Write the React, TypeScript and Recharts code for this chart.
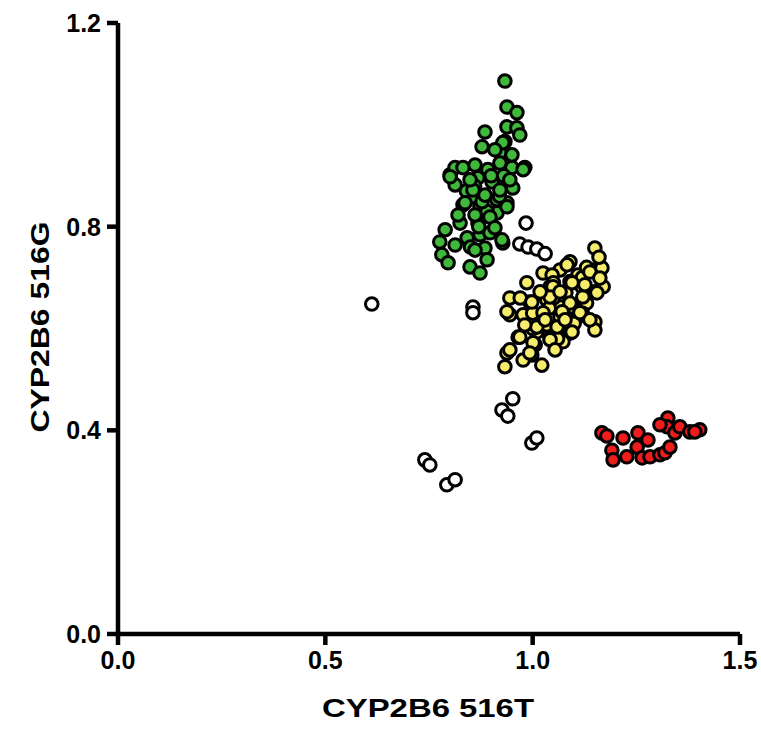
import { ScatterChart, Scatter, XAxis, YAxis, Label } from "recharts";

type Pt = { x: number; y: number };

const xTicks = [0, 0.5, 1.0, 1.5];
const yTicks = [0, 0.4, 0.8, 1.2];

const whitePts: Pt[] = [
  { x: 0.612, y: 0.648 }, { x: 0.856, y: 0.642 }, { x: 0.856, y: 0.631 },
  { x: 0.952, y: 0.462 }, { x: 0.926, y: 0.44 }, { x: 0.94, y: 0.428 },
  { x: 0.998, y: 0.375 }, { x: 1.01, y: 0.385 }, { x: 0.74, y: 0.342 },
  { x: 0.752, y: 0.332 }, { x: 0.793, y: 0.293 }, { x: 0.813, y: 0.303 },
  { x: 0.984, y: 0.807 }, { x: 0.969, y: 0.766 }, { x: 0.989, y: 0.76 },
  { x: 1.01, y: 0.756 }, { x: 1.03, y: 0.747 },
];

const greenPts: Pt[] = [
  { x: 0.933, y: 1.086 }, { x: 0.938, y: 1.035 }, { x: 0.962, y: 1.024 },
  { x: 0.938, y: 0.996 }, { x: 0.962, y: 0.994 }, { x: 0.969, y: 0.98 },
  { x: 0.885, y: 0.986 }, { x: 0.878, y: 0.957 }, { x: 0.933, y: 0.967 },
  { x: 0.921, y: 0.945 }, { x: 0.801, y: 0.902 }, { x: 0.813, y: 0.916 },
  { x: 0.832, y: 0.916 }, { x: 0.861, y: 0.921 }, { x: 0.892, y: 0.912 },
  { x: 0.921, y: 0.925 }, { x: 0.95, y: 0.916 }, { x: 0.981, y: 0.916 },
  { x: 0.813, y: 0.882 }, { x: 0.868, y: 0.896 }, { x: 0.902, y: 0.888 },
  { x: 0.952, y: 0.876 }, { x: 0.854, y: 0.859 }, { x: 0.832, y: 0.843 },
  { x: 0.873, y: 0.839 }, { x: 0.914, y: 0.853 }, { x: 0.938, y: 0.847 },
  { x: 0.825, y: 0.807 }, { x: 0.868, y: 0.807 }, { x: 0.914, y: 0.827 },
  { x: 0.789, y: 0.794 }, { x: 0.776, y: 0.77 }, { x: 0.842, y: 0.778 },
  { x: 0.873, y: 0.784 }, { x: 0.897, y: 0.788 }, { x: 0.928, y: 0.768 },
  { x: 0.781, y: 0.745 }, { x: 0.796, y: 0.729 }, { x: 0.885, y: 0.758 },
  { x: 0.849, y: 0.721 }, { x: 0.873, y: 0.709 }, { x: 0.89, y: 0.735 },
  { x: 0.86, y: 0.88 }, { x: 0.9, y: 0.9 }, { x: 0.84, y: 0.87 },
  { x: 0.89, y: 0.83 }, { x: 0.93, y: 0.9 }, { x: 0.87, y: 0.8 },
  { x: 0.92, y: 0.86 }, { x: 0.85, y: 0.76 },
  { x: 0.928, y: 0.965 }, { x: 0.945, y: 0.892 }, { x: 0.856, y: 0.872 },
  { x: 0.938, y: 0.839 }, { x: 0.897, y: 0.819 }, { x: 0.926, y: 0.774 },
  { x: 0.801, y: 0.898 }, { x: 0.837, y: 0.847 }, { x: 0.878, y: 0.849 },
  { x: 0.977, y: 0.912 }, { x: 0.909, y: 0.951 }, { x: 0.95, y: 0.941 },
  { x: 0.849, y: 0.892 }, { x: 0.885, y: 0.862 }, { x: 0.921, y: 0.872 },
  { x: 0.82, y: 0.823 }, { x: 0.861, y: 0.823 }, { x: 0.909, y: 0.798 },
  { x: 0.813, y: 0.764 }, { x: 0.861, y: 0.754 },
];

const yellowPts: Pt[] = [
  { x: 1.15, y: 0.758 }, { x: 1.143, y: 0.715 }, { x: 1.167, y: 0.719 },
  { x: 1.09, y: 0.731 }, { x: 1.066, y: 0.715 }, { x: 1.025, y: 0.709 },
  { x: 1.047, y: 0.705 }, { x: 1.109, y: 0.705 }, { x: 0.986, y: 0.69 },
  { x: 1.042, y: 0.682 }, { x: 1.09, y: 0.692 }, { x: 1.119, y: 0.682 },
  { x: 1.15, y: 0.672 }, { x: 1.17, y: 0.682 }, { x: 0.945, y: 0.66 },
  { x: 0.993, y: 0.652 }, { x: 1.034, y: 0.656 }, { x: 1.066, y: 0.642 },
  { x: 1.097, y: 0.642 }, { x: 1.121, y: 0.656 }, { x: 0.945, y: 0.627 },
  { x: 0.977, y: 0.627 }, { x: 1.025, y: 0.627 }, { x: 1.066, y: 0.623 },
  { x: 1.109, y: 0.623 }, { x: 1.034, y: 0.607 }, { x: 1.066, y: 0.603 },
  { x: 1.09, y: 0.591 }, { x: 1.15, y: 0.613 }, { x: 1.15, y: 0.597 },
  { x: 0.965, y: 0.583 }, { x: 1.01, y: 0.593 }, { x: 1.006, y: 0.568 },
  { x: 1.042, y: 0.582 }, { x: 1.073, y: 0.574 }, { x: 0.938, y: 0.552 },
  { x: 0.998, y: 0.548 }, { x: 1.022, y: 0.528 }, { x: 0.933, y: 0.525 },
  { x: 0.977, y: 0.538 }, { x: 1.05, y: 0.66 }, { x: 1.08, y: 0.67 },
  { x: 1.12, y: 0.7 }, { x: 1.13, y: 0.65 }, { x: 1.1, y: 0.61 },
  { x: 1.04, y: 0.64 }, { x: 1.0, y: 0.6 }, { x: 1.13, y: 0.72 },
  { x: 1.16, y: 0.74 }, { x: 1.05, y: 0.69 }, { x: 0.97, y: 0.66 },
  { x: 1.06, y: 0.58 }, { x: 1.12, y: 0.63 }, { x: 1.0, y: 0.63 },
  { x: 1.083, y: 0.725 }, { x: 1.138, y: 0.711 }, { x: 1.049, y: 0.682 },
  { x: 1.095, y: 0.69 }, { x: 1.155, y: 0.67 }, { x: 0.998, y: 0.652 },
  { x: 1.042, y: 0.662 }, { x: 1.09, y: 0.65 }, { x: 1.121, y: 0.662 },
  { x: 0.938, y: 0.633 }, { x: 1.025, y: 0.631 }, { x: 1.071, y: 0.633 },
  { x: 1.114, y: 0.631 }, { x: 1.01, y: 0.603 }, { x: 1.059, y: 0.603 },
  { x: 1.095, y: 0.593 }, { x: 0.969, y: 0.583 }, { x: 1.001, y: 0.572 },
  { x: 1.042, y: 0.578 }, { x: 0.945, y: 0.558 }, { x: 0.993, y: 0.552 },
  { x: 1.066, y: 0.672 }, { x: 1.03, y: 0.617 }, { x: 1.078, y: 0.617 },
  { x: 1.126, y: 0.686 }, { x: 1.162, y: 0.699 }, { x: 1.018, y: 0.672 },
  { x: 0.981, y: 0.607 }, { x: 1.138, y: 0.617 }, { x: 1.054, y: 0.558 },
];

const redPts: Pt[] = [
  { x: 1.167, y: 0.395 }, { x: 1.179, y: 0.389 }, { x: 1.191, y: 0.361 },
  { x: 1.194, y: 0.342 }, { x: 1.218, y: 0.385 }, { x: 1.227, y: 0.348 },
  { x: 1.254, y: 0.395 }, { x: 1.252, y: 0.367 }, { x: 1.264, y: 0.346 },
  { x: 1.278, y: 0.381 }, { x: 1.283, y: 0.348 }, { x: 1.307, y: 0.352 },
  { x: 1.319, y: 0.356 }, { x: 1.331, y: 0.367 }, { x: 1.326, y: 0.424 },
  { x: 1.324, y: 0.407 }, { x: 1.343, y: 0.395 }, { x: 1.355, y: 0.407 },
  { x: 1.379, y: 0.397 }, { x: 1.403, y: 0.401 }, { x: 1.391, y: 0.397 },
  { x: 1.307, y: 0.411 },
];

const font = "'Liberation Sans', Arial, sans-serif";

const dot = (fill: string) => (p: any) => (
  <circle cx={p.cx} cy={p.cy} r={6.3} fill={fill} stroke="#000" strokeWidth={3} />
);

const fmt = (v: number) => v.toFixed(1);

export default function App() {
  const tick = { fontSize: 25, fontWeight: "bold", fill: "#000", fontFamily: font };
  const line = { stroke: "#000", strokeWidth: 4.5 };
  return (
    <div style={{ position: "absolute", left: 0, top: 0, background: "#fff" }}>
      <ScatterChart width={761} height={731} margin={{ top: 23, right: 21, bottom: 0, left: 0 }}>
        <XAxis
          type="number"
          dataKey="x"
          domain={[0, 1.5]}
          ticks={xTicks}
          tickFormatter={fmt}
          height={97}
          tickSize={11}
          tickMargin={6}
          tick={tick}
          stroke="#000"
          strokeWidth={4.5}
          axisLine={line}
          tickLine={line}
        >
          <Label
            content={({ viewBox }: any) => (
              <text
                x={viewBox.x + viewBox.width / 2 - 1}
                y={717}
                textAnchor="middle"
                fontSize={26}
                fontWeight="bold"
                fontFamily={font}
                fill="#000"
                textLength={212}
                lengthAdjust="spacingAndGlyphs"
              >
                CYP2B6 516T
              </text>
            )}
          />
        </XAxis>
        <YAxis
          type="number"
          dataKey="y"
          domain={[0, 1.2]}
          ticks={yTicks}
          tickFormatter={fmt}
          width={118}
          tickSize={11}
          tickMargin={6}
          tick={tick}
          stroke="#000"
          strokeWidth={4.5}
          axisLine={line}
          tickLine={line}
        >
          <Label
            content={() => {
              const cx = 40;
              const cy = 327;
              return (
                <text
                  x={cx}
                  y={cy}
                  transform={`rotate(-90 ${cx} ${cy})`}
                  textAnchor="middle"
                  dominantBaseline="central"
                  fontSize={26}
                  fontWeight="bold"
                  fontFamily={font}
                  fill="#000"
                  textLength={211}
                  lengthAdjust="spacingAndGlyphs"
                >
                  CYP2B6 516G
                </text>
              );
            }}
          />
        </YAxis>
        <Scatter data={whitePts} shape={dot("#fff")} isAnimationActive={false} />
        <Scatter data={greenPts} shape={dot("#3fb83c")} isAnimationActive={false} />
        <Scatter data={yellowPts} shape={dot("#f6ec6c")} isAnimationActive={false} />
        <Scatter data={redPts} shape={dot("#ee1d1d")} isAnimationActive={false} />
      </ScatterChart>
    </div>
  );
}
